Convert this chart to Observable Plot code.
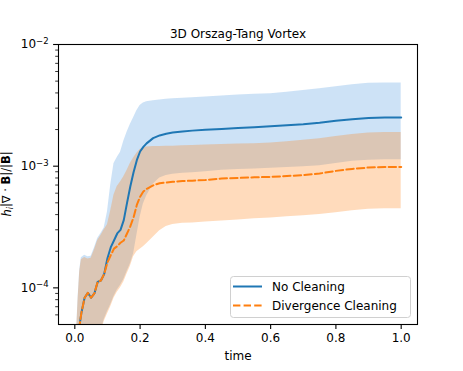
<!DOCTYPE html>
<html>
<head>
<meta charset="utf-8">
<script src="https://cdn.jsdelivr.net/npm/d3@7"></script>
<script src="https://cdn.jsdelivr.net/npm/@observablehq/plot@0.6"></script>
<style>
  html, body { margin: 0; padding: 0; background: white; }
  #chart { width: 463px; height: 371px; }
</style>
</head>
<body>
<div id="chart"></div>
<script>
// time samples
const T = [0.005, 0.01, 0.015, 0.02, 0.03, 0.04, 0.05, 0.06, 0.07, 0.08, 0.09, 0.10, 0.11, 0.12, 0.13, 0.14, 0.15, 0.16, 0.17, 0.18, 0.19, 0.20, 0.21, 0.22, 0.24, 0.26, 0.28, 0.30, 0.33, 0.36, 0.40, 0.45, 0.50, 0.55, 0.60, 0.65, 0.70, 0.75, 0.80, 0.85, 0.90, 0.95, 1.00];

// No Cleaning: mean, lower, upper
const noClean   = [2.5e-5, 3.6e-5, 5.0e-5, 6.2e-5, 8.3e-5, 9.1e-5, 8.3e-5, 9.0e-5, 1.12e-4, 1.15e-4, 1.3e-4, 1.75e-4, 2.15e-4, 2.45e-4, 2.8e-4, 3.0e-4, 3.6e-4, 5.0e-4, 6.8e-4, 8.9e-4, 1.12e-3, 1.32e-3, 1.44e-3, 1.54e-3, 1.70e-3, 1.79e-3, 1.85e-3, 1.89e-3, 1.93e-3, 1.96e-3, 1.99e-3, 2.02e-3, 2.06e-3, 2.09e-3, 2.13e-3, 2.17e-3, 2.21e-3, 2.27e-3, 2.36e-3, 2.43e-3, 2.49e-3, 2.51e-3, 2.51e-3];
const noCleanLo = [1.05e-5, 1.2e-5, 1.26e-5, 1.37e-5, 1.58e-5, 1.9e-5, 2.3e-5, 2.9e-5, 3.6e-5, 4.4e-5, 5.5e-5, 6.4e-5, 7.3e-5, 8.5e-5, 9.6e-5, 1.05e-4, 1.17e-4, 1.36e-4, 1.57e-4, 1.9e-4, 2.7e-4, 3.8e-4, 4.9e-4, 5.7e-4, 7.1e-4, 8.0e-4, 8.4e-4, 8.6e-4, 8.75e-4, 8.85e-4, 9.0e-4, 9.27e-4, 9.4e-4, 9.5e-4, 9.6e-4, 9.75e-4, 9.9e-4, 1.01e-3, 1.05e-3, 1.1e-3, 1.12e-3, 1.13e-3, 1.13e-3];
const noCleanHi = [4.2e-5, 8.3e-5, 1.4e-4, 1.77e-4, 1.85e-4, 1.8e-4, 1.82e-4, 2.13e-4, 2.55e-4, 2.8e-4, 3.1e-4, 4.2e-4, 7.0e-4, 1.05e-3, 1.18e-3, 1.3e-3, 1.6e-3, 1.9e-3, 2.2e-3, 2.5e-3, 2.85e-3, 3.15e-3, 3.3e-3, 3.38e-3, 3.45e-3, 3.5e-3, 3.55e-3, 3.58e-3, 3.62e-3, 3.65e-3, 3.7e-3, 3.78e-3, 3.85e-3, 3.9e-3, 3.94e-3, 4.05e-3, 4.18e-3, 4.33e-3, 4.5e-3, 4.68e-3, 4.8e-3, 4.83e-3, 4.83e-3];

// Divergence Cleaning: mean, lower, upper
const clean   = [2.5e-5, 3.6e-5, 5.0e-5, 6.2e-5, 8.3e-5, 9.1e-5, 8.3e-5, 9.0e-5, 1.12e-4, 1.15e-4, 1.3e-4, 1.62e-4, 1.85e-4, 2.1e-4, 2.2e-4, 2.35e-4, 2.45e-4, 2.8e-4, 3.2e-4, 3.8e-4, 4.8e-4, 5.6e-4, 6.2e-4, 6.5e-4, 6.95e-4, 7.25e-4, 7.35e-4, 7.45e-4, 7.55e-4, 7.6e-4, 7.7e-4, 7.93e-4, 8.0e-4, 8.1e-4, 8.17e-4, 8.3e-4, 8.45e-4, 8.7e-4, 9.15e-4, 9.5e-4, 9.75e-4, 9.85e-4, 9.87e-4];
const cleanLo = [1.0e-5, 1.15e-5, 1.2e-5, 1.3e-5, 1.5e-5, 1.8e-5, 2.2e-5, 2.8e-5, 3.4e-5, 4.2e-5, 5.3e-5, 6.1e-5, 7.0e-5, 8.2e-5, 9.2e-5, 1.0e-4, 1.12e-4, 1.3e-4, 1.5e-4, 1.8e-4, 1.98e-4, 2.08e-4, 2.18e-4, 2.3e-4, 2.6e-4, 2.95e-4, 3.2e-4, 3.32e-4, 3.4e-4, 3.42e-4, 3.48e-4, 3.55e-4, 3.62e-4, 3.7e-4, 3.75e-4, 3.85e-4, 3.92e-4, 4.0e-4, 4.15e-4, 4.3e-4, 4.42e-4, 4.47e-4, 4.47e-4];
const cleanHi = [4.0e-5, 8.0e-5, 1.35e-4, 1.7e-4, 1.78e-4, 1.73e-4, 1.75e-4, 2.05e-4, 2.45e-4, 2.7e-4, 3.0e-4, 3.3e-4, 4.3e-4, 5.8e-4, 6.8e-4, 7.4e-4, 8.2e-4, 9.2e-4, 1.05e-3, 1.17e-3, 1.28e-3, 1.37e-3, 1.42e-3, 1.44e-3, 1.45e-3, 1.45e-3, 1.46e-3, 1.46e-3, 1.47e-3, 1.48e-3, 1.49e-3, 1.51e-3, 1.52e-3, 1.53e-3, 1.55e-3, 1.59e-3, 1.63e-3, 1.68e-3, 1.75e-3, 1.82e-3, 1.87e-3, 1.89e-3, 1.89e-3];

const seriesNames = ["No Cleaning", "Divergence Cleaning"];
const xTicks = [0.0, 0.2, 0.4, 0.6, 0.8, 1.0];
const yMajor = [1e-4, 1e-3, 1e-2];
const yMinor = [6e-5, 7e-5, 8e-5, 9e-5, 2e-4, 3e-4, 4e-4, 5e-4, 6e-4, 7e-4, 8e-4, 9e-4, 2e-3, 3e-3, 4e-3, 5e-3, 6e-3, 7e-3, 8e-3, 9e-3];
const titleText = "3D Orszag-Tang Vortex";
const xLabel = "time";

const rows = T.map((t, i) => ({
  t, nc: noClean[i], ncLo: noCleanLo[i], ncHi: noCleanHi[i],
  c: clean[i], cLo: cleanLo[i], cHi: cleanHi[i]
}));

const FONT = "DejaVu Sans";
const C0 = "#1f77b4", C1 = "#ff7f0e";

const plot = Plot.plot({
  width: 463,
  height: 371,
  marginLeft: 58,
  marginRight: 46,
  marginTop: 44,
  marginBottom: 47,
  style: {fontFamily: FONT, fontSize: "12px", background: "white", color: "black", overflow: "visible"},
  x: {domain: [-0.05, 1.05]},
  y: {type: "log", domain: [5e-5, 1e-2]},
  marks: [
    Plot.areaY(rows, {x: "t", y1: "ncLo", y2: "ncHi", fill: "#5a9fe2", fillOpacity: 0.3, clip: true}),
    Plot.areaY(rows, {x: "t", y1: "cLo", y2: "cHi", fill: C1, fillOpacity: 0.28, clip: true}),
    Plot.line(rows, {x: "t", y: "nc", stroke: C0, strokeWidth: 2, clip: true}),
    Plot.line(rows, {x: "t", y: "c", stroke: C1, strokeWidth: 2, strokeDasharray: "7.4,3.2", clip: true}),
    Plot.axisX({ticks: xTicks, tickSize: 4.9, tickPadding: 4, strokeWidth: 1.1, tickFormat: d3.format(".1f"), label: null, fontSize: 12}),
    Plot.axisY({ticks: yMajor, tickSize: 4.9, tickPadding: 5, strokeWidth: 1.1, tickFormat: d => "10|" + Math.round(Math.log10(d)), label: null, fontSize: 12}),
    Plot.axisY({ticks: yMinor, tickSize: 2.8, strokeWidth: 0.8, tickFormat: () => "", label: null}),
    Plot.frame({stroke: "black", strokeWidth: 1.1}),
    Plot.text([titleText], {frameAnchor: "top", lineAnchor: "bottom", dy: -7, fontSize: 12, fill: "black"}),
    Plot.text([xLabel], {frameAnchor: "bottom", lineAnchor: "middle", dy: 32, fontSize: 12, fill: "black"})
  ]
});

document.getElementById("chart").appendChild(plot);

const svg = d3.select(plot);

// superscript exponents on y tick labels
svg.selectAll('text').each(function() {
  const txt = d3.select(this);
  const s = txt.text();
  if (!s || s.indexOf("10|") !== 0) return;
  const [base, exp] = s.split("|");
  txt.text(null);
  txt.append("tspan").text(base);
  txt.append("tspan").attr("dy", "-0.5em").attr("font-size", "8.5px").text(exp.replace("-", "\u2212"));
});

// y-axis label (math style)
const yl = svg.append("text")
  .attr("transform", "translate(11,184) rotate(-90)")
  .attr("text-anchor", "middle")
  .attr("font-family", FONT)
  .attr("font-size", "11.5px")
  .attr("fill", "black");
yl.append("tspan").attr("font-style", "italic").text("h");
yl.append("tspan").attr("font-style", "italic").attr("font-size", "8px").attr("dy", "0.25em").text("i");
yl.append("tspan").attr("dy", "-0.25em").text("|\u2207 \u00b7 ");
yl.append("tspan").attr("font-weight", "bold").text("B");
yl.append("tspan").text("|/|");
yl.append("tspan").attr("font-weight", "bold").text("B");
yl.append("tspan").text("|");

// legend
const lg = svg.append("g").attr("font-family", FONT).attr("font-size", "12px").attr("text-anchor", "start");
lg.append("rect").attr("x", 230.5).attr("y", 276.5).attr("width", 180).attr("height", 41)
  .attr("rx", 3).attr("fill", "white").attr("fill-opacity", 0.8).attr("stroke", "#d0d0d0").attr("stroke-width", 1);
const items = [
  {name: seriesNames[0], color: C0, dash: null, y: 286.5},
  {name: seriesNames[1], color: C1, dash: "7.4,3.2", y: 305.5}
];
items.forEach(it => {
  lg.append("line").attr("x1", 233).attr("x2", 262).attr("y1", it.y).attr("y2", it.y)
    .attr("stroke", it.color).attr("stroke-width", 2).attr("stroke-dasharray", it.dash);
  lg.append("text").attr("x", 272).attr("y", it.y).attr("dy", "0.36em").attr("text-anchor", "start").attr("fill", "black").text(it.name);
});
</script>
</body>
</html>
